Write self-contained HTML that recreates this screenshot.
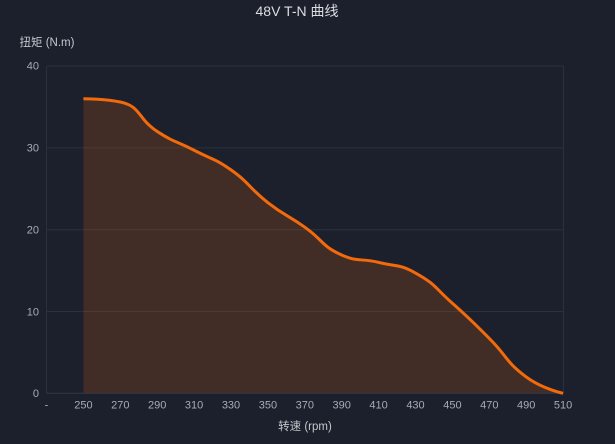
<!DOCTYPE html>
<html>
<head>
<meta charset="utf-8">
<style>
  html, body { margin: 0; padding: 0; }
  body { width: 615px; height: 444px; background: #1b202c; overflow: hidden; }
  svg { display: block; }
  text { font-family: "Liberation Sans", "Noto Sans CJK SC", sans-serif; }
</style>
</head>
<body>
<svg id="chart" width="615" height="444" viewBox="0 0 615 444" xmlns="http://www.w3.org/2000/svg">
  <rect x="0" y="0" width="615" height="444" fill="#1b202c"/>
  <!-- title -->
  <text x="297" y="16" text-anchor="middle" font-size="14" fill="#dcdde0">48V T-N 曲线</text>
  <!-- y axis name -->
  <text x="47" y="46" text-anchor="middle" font-size="11.5" fill="#c4c7cc">扭矩 (N.m)</text>
  <!-- grid lines -->
  <g stroke="#2b303c" stroke-width="1" fill="none">
    <line x1="46.5" y1="66" x2="563.5" y2="66"/>
    <line x1="46.5" y1="147.9" x2="563.5" y2="147.9"/>
    <line x1="46.5" y1="229.7" x2="563.5" y2="229.7"/>
    <line x1="46.5" y1="311.5" x2="563.5" y2="311.5"/>
    <line x1="46.5" y1="66" x2="46.5" y2="393.3"/>
    <line x1="563.5" y1="66" x2="563.5" y2="393.3"/>
  </g>
  <path id="area" fill="#f26a0c" fill-opacity="0.18" stroke="none" d=""/>
  <line x1="46.5" y1="393.3" x2="563.5" y2="393.3" stroke="#333846" stroke-width="1"/>
  <path id="line" fill="none" stroke="#f26a0c" stroke-width="3" stroke-linejoin="round" stroke-linecap="butt" d=""/>
  <!-- y tick labels -->
  <g font-size="11" fill="#a7abb3" text-anchor="end">
    <text x="39" y="69.5">40</text>
    <text x="39" y="151.5">30</text>
    <text x="39" y="233.5">20</text>
    <text x="39" y="315.5">10</text>
    <text x="39" y="397">0</text>
  </g>
  <!-- x tick labels -->
  <g font-size="11" fill="#a7abb3" text-anchor="middle">
    <text x="46.5" y="408.5">-</text>
    <text x="83.4" y="408.5">250</text>
    <text x="120.3" y="408.5">270</text>
    <text x="157.2" y="408.5">290</text>
    <text x="194.1" y="408.5">310</text>
    <text x="231.0" y="408.5">330</text>
    <text x="267.9" y="408.5">350</text>
    <text x="304.8" y="408.5">370</text>
    <text x="341.7" y="408.5">390</text>
    <text x="378.6" y="408.5">410</text>
    <text x="415.5" y="408.5">430</text>
    <text x="452.4" y="408.5">450</text>
    <text x="489.3" y="408.5">470</text>
    <text x="526.2" y="408.5">490</text>
    <text x="563.1" y="408.5">510</text>
  </g>
  <!-- x axis name -->
  <text x="305" y="430" text-anchor="middle" font-size="11.5" fill="#c4c7cc">转速 (rpm)</text>
</svg>
<script>
(function(){
  var vals = [36, 35.6, 32.0, 29.7, 27.3, 23.3, 20.3, 16.9, 16.0, 14.7, 11.0, 6.7, 2.0, 0];
  var pts = [];
  for (var i = 0; i < vals.length; i++) {
    pts.push([83.4 + 36.9 * i, 393.3 - vals[i] * 8.183]);
  }
  var smooth = 0.5;
  var mn = Math.min, mx = Math.max;
  var d = "";
  var prevX, prevY, cpx0, cpy0, cpx1, cpy1;
  for (var idx = 0; idx < pts.length; idx++) {
    var x = pts[idx][0], y = pts[idx][1];
    if (idx === 0) {
      d += "M" + x.toFixed(2) + "," + y.toFixed(2);
      cpx0 = x; cpy0 = y;
    } else {
      var nextCpx0, nextCpy0;
      if (idx + 1 >= pts.length) {
        cpx1 = x; cpy1 = y;
        nextCpx0 = x; nextCpy0 = y;
      } else {
        var nextX = pts[idx+1][0], nextY = pts[idx+1][1];
        var vx = nextX - prevX, vy = nextY - prevY;
        var dx0 = x - prevX, dx1 = nextX - x, dy0 = y - prevY, dy1 = nextY - y;
        var lenPrev = Math.sqrt(dx0*dx0 + dy0*dy0);
        var lenNext = Math.sqrt(dx1*dx1 + dy1*dy1);
        var ratio = lenNext / (lenNext + lenPrev);
        nextCpx0 = x + vx * smooth * ratio;
        nextCpy0 = y + vy * smooth * ratio;
        nextCpx0 = mn(nextCpx0, mx(nextX, x));
        nextCpy0 = mn(nextCpy0, mx(nextY, y));
        nextCpx0 = mx(nextCpx0, mn(nextX, x));
        nextCpy0 = mx(nextCpy0, mn(nextY, y));
        vx = nextCpx0 - x; vy = nextCpy0 - y;
        cpx1 = x - vx * lenPrev / lenNext;
        cpy1 = y - vy * lenPrev / lenNext;
        cpx1 = mn(cpx1, mx(prevX, x));
        cpy1 = mn(cpy1, mx(prevY, y));
        cpx1 = mx(cpx1, mn(prevX, x));
        cpy1 = mx(cpy1, mn(prevY, y));
        vx = x - cpx1; vy = y - cpy1;
        nextCpx0 = x + vx * lenNext / lenPrev;
        nextCpy0 = y + vy * lenNext / lenPrev;
      }
      d += " C" + cpx0.toFixed(2) + "," + cpy0.toFixed(2) + " " + cpx1.toFixed(2) + "," + cpy1.toFixed(2) + " " + x.toFixed(2) + "," + y.toFixed(2);
      cpx0 = nextCpx0; cpy0 = nextCpy0;
    }
    prevX = x; prevY = y;
  }
  document.getElementById("line").setAttribute("d", d);
  var last = pts[pts.length-1], first = pts[0];
  var ad = d + " L" + last[0].toFixed(2) + ",393.3 L" + first[0].toFixed(2) + ",393.3 Z";
  document.getElementById("area").setAttribute("d", ad);
})();
</script>
</body>
</html>
